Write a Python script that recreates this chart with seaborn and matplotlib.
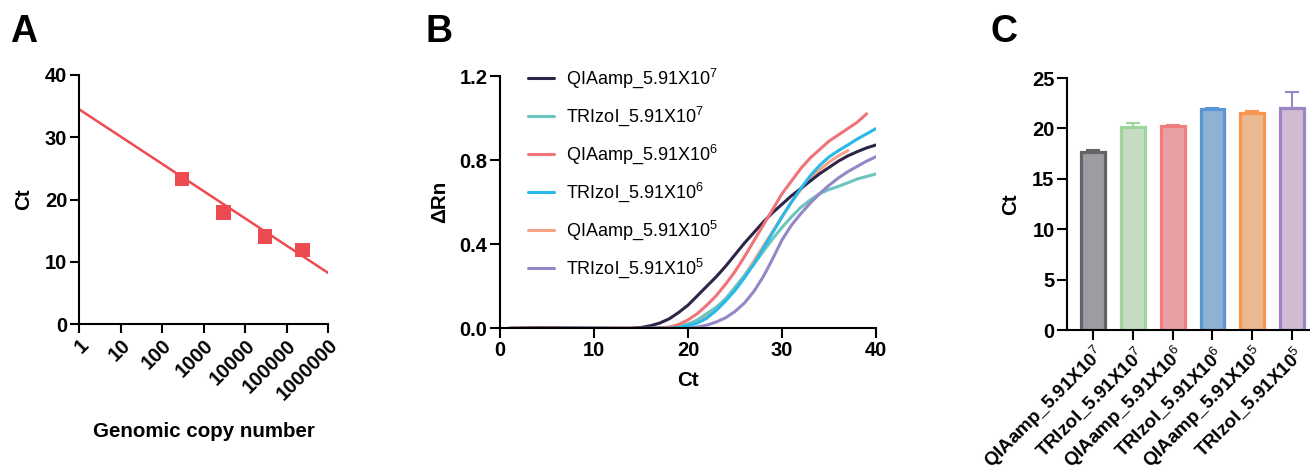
import numpy as np
import pandas as pd
import matplotlib
matplotlib.use("Agg")
import matplotlib.pyplot as plt
import seaborn as sns
from matplotlib.lines import Line2D

nan = np.nan
# ---------------- data ----------------
# Panel A: standard curve
copies = [300, 3000, 30000, 240000]
ct_std = [23.3, 17.9, 14.1, 11.9]
fit_intercept = 34.5
fit_slope = -4.38
a_xticks = [1, 10, 100, 1000, 10000, 100000, 1000000]
a_xticklabels = ["1", "10", "100", "1000", "10000", "100000", "1000000"]

# Panel B: amplification curves
ct_grid = [1, 4, 8, 12, 14, 15, 16, 17, 18, 19, 20, 21, 22, 23, 24, 25, 26, 27,
           28, 29, 30, 31, 32, 33, 34, 35, 36, 37, 38, 39, 40]
qia_7 = [0.0, 0.002, 0.001, 0.0, 0.0, 0.004, 0.012, 0.025, 0.045, 0.075, 0.11, 0.155, 0.20, 0.245,
         0.295, 0.35, 0.405, 0.455, 0.505, 0.55, 0.59, 0.63, 0.665, 0.70, 0.735, 0.765, 0.795,
         0.82, 0.84, 0.858, 0.872]
tri_7 = [0.0, 0.0, 0.001, -0.002, 0.0, 0.0, 0.001, 0.003, 0.005, 0.01, 0.02, 0.04, 0.07, 0.10,
         0.14, 0.195, 0.25, 0.305, 0.365, 0.425, 0.48, 0.53, 0.575, 0.61, 0.64, 0.66, 0.675,
         0.692, 0.71, 0.722, 0.734]
qia_6 = [0.0, 0.0, 0.0, 0.001, 0.0, 0.0, 0.0, 0.002, 0.005, 0.018, 0.04, 0.07, 0.11, 0.155,
         0.21, 0.27, 0.34, 0.415, 0.49, 0.565, 0.64, 0.70, 0.76, 0.81, 0.85, 0.89, 0.92,
         0.95, 0.98, 1.02, nan]
tri_6 = [nan, -0.002, 0.0, 0.0, -0.002, 0.0, 0.0, 0.0, 0.0, 0.004, 0.012, 0.025, 0.048, 0.085,
         0.13, 0.18, 0.24, 0.305, 0.38, 0.455, 0.53, 0.60, 0.665, 0.725, 0.775, 0.815, 0.845,
         0.872, 0.90, 0.925, 0.95]
qia_5 = [0.0, 0.0, 0.0, 0.0, 0.0, 0.0, 0.0, 0.002, 0.004, 0.01, 0.02, 0.035, 0.06, 0.095,
         0.14, 0.19, 0.25, 0.32, 0.39, 0.46, 0.53, 0.60, 0.66, 0.71, 0.755, 0.79, 0.82,
         0.845, nan, nan, nan]
tri_5 = [0.0, 0.0, 0.0, 0.0, -0.001, 0.0, 0.0, 0.0, 0.0, 0.0, 0.0, 0.006, 0.015, 0.03,
         0.05, 0.08, 0.12, 0.175, 0.245, 0.33, 0.42, 0.49, 0.545, 0.595, 0.64, 0.68, 0.715,
         0.745, 0.77, 0.795, 0.816]

b_labels = [r"QIAamp_5.91X10$^{7}$", r"TRIzol_5.91X10$^{7}$", r"QIAamp_5.91X10$^{6}$",
            r"TRIzol_5.91X10$^{6}$", r"QIAamp_5.91X10$^{5}$", r"TRIzol_5.91X10$^{5}$"]
b_colors = ["#2d2548", "#6cc4bf", "#f0737a", "#29b9e8", "#f8a386", "#9388c6"]

# Panel C: Ct bar chart
c_labels = b_labels
c_means = [17.7, 20.1, 20.2, 21.9, 21.5, 22.0]
c_sd = [0.2, 0.4, 0.1, 0.1, 0.2, 1.6]
c_face = ["#9a9ca3", "#c2e0bf", "#f49598", "#82b1e0", "#f9b682", "#d4b6d6"]
c_edge = ["#646467", "#9fd49b", "#f07c80", "#5a96d3", "#f7964f", "#9a88c4"]

# ---------------- style ----------------
sns.set_theme(style="ticks")
plt.rcParams["font.family"] = ["Liberation Sans", "DejaVu Sans"]
plt.rcParams["mathtext.fontset"] = "custom"
plt.rcParams["mathtext.rm"] = "Liberation Sans"
plt.rcParams["mathtext.it"] = "Liberation Sans"
plt.rcParams["mathtext.bf"] = "Liberation Sans"
plt.rcParams["axes.linewidth"] = 1.5
for k in ["text.color", "axes.labelcolor", "xtick.color", "ytick.color", "axes.edgecolor"]:
    plt.rcParams[k] = "black"

TICK_FS = 14.5
LABEL_FS = 14.8

fig = plt.figure(figsize=(13.1, 4.74), dpi=100)
W, H = 1310, 474


def add_axes(x0, x1, ytop, ybot):
    return fig.add_axes([x0 / W, 1 - ybot / H, (x1 - x0) / W, (ybot - ytop) / H])


def style_axes(ax, ticklen=7):
    sns.despine(ax=ax)
    ax.tick_params(axis="both", length=ticklen, width=1.5, labelsize=TICK_FS, pad=2, color="black",
                   labelcolor="black")
    for lab in ax.get_xticklabels() + ax.get_yticklabels():
        lab.set_fontweight("bold")
    for sp in ["left", "bottom"]:
        ax.spines[sp].set_color("black")
        ax.spines[sp].set_linewidth(1.5)


# ---------------- Panel A ----------------
axA = add_axes(79, 328, 75, 324)
axA.set_xscale("log")
axA.set_xlim(a_xticks[0], a_xticks[-1])
axA.set_ylim(0, 40)
fit_x = np.array(axA.get_xlim())
fit_df = pd.DataFrame({"x": fit_x, "y": fit_intercept + fit_slope * np.log10(fit_x)})
sns.lineplot(data=fit_df, x="x", y="y", ax=axA, color="#ee4b4f", lw=1.8)
pts = pd.DataFrame({"copies": copies, "ct": ct_std})
sns.scatterplot(data=pts, x="copies", y="ct", ax=axA, marker="s", s=110, color="#ee4a52",
                edgecolor="none", zorder=3, clip_on=False)
axA.set_xticks(a_xticks)
axA.set_xticklabels(a_xticklabels, rotation=45, ha="right", va="top", rotation_mode="anchor")
axA.minorticks_off()
axA.set_yticks([0, 10, 20, 30, 40])
style_axes(axA, ticklen=6.5)
axA.set_xlabel("Genomic copy number", fontsize=LABEL_FS, fontweight="bold")
axA.set_ylabel("Ct", fontsize=LABEL_FS, fontweight="bold")
axA.xaxis.set_label_coords(0.5, -0.395)
axA.yaxis.set_label_coords(-0.185, 0.5)
axA.set_xlim(a_xticks[0], a_xticks[-1])
axA.set_ylim(0, 40)

# ---------------- Panel B ----------------
axB = add_axes(500, 876, 76, 328.3)
series = [qia_7, tri_7, qia_6, tri_6, qia_5, tri_5]
draw_order = [4, 1, 5, 0, 2, 3]
handles = {}
for i in draw_order:
    df = pd.DataFrame({"Ct": ct_grid, "dRn": series[i]}).dropna()
    sns.lineplot(data=df, x="Ct", y="dRn", ax=axB, color=b_colors[i], lw=2.2,
                 zorder=2 + draw_order.index(i))
    handles[i] = Line2D([], [], color=b_colors[i], lw=2.2)
axB.set_xlim(0, 40)
axB.set_ylim(0, 1.2)
axB.set_xticks([0, 10, 20, 30, 40])
axB.set_yticks([0.0, 0.4, 0.8, 1.2])
axB.set_yticklabels(["0.0", "0.4", "0.8", "1.2"])
style_axes(axB, ticklen=7)
axB.spines["bottom"].set_zorder(10)
axB.set_xlabel("Ct", fontsize=LABEL_FS, fontweight="bold")
axB.set_ylabel("ΔRn", fontsize=LABEL_FS, fontweight="bold")
axB.xaxis.set_label_coords(0.5, -0.17)
axB.yaxis.set_label_coords(-0.135, 0.5)
axB.legend([handles[i] for i in range(6)], b_labels, loc="upper left",
           bbox_to_anchor=(0.03, 1.10), frameon=False, fontsize=13,
           handlelength=1.45, handletextpad=0.7, labelspacing=0.8)

# ---------------- Panel C ----------------
axC = add_axes(1067, 1310, 78, 330)
cdf = pd.DataFrame({"label": c_labels, "ct": c_means})
sns.barplot(data=cdf, x="label", y="ct", ax=axC, width=0.6, palette=c_face, hue="label",
            legend=False, linewidth=2.3, errorbar=None)
for patch, ec in zip(axC.patches, c_edge):
    patch.set_edgecolor(ec)
    patch.set_linewidth(2.3)
for i in range(len(c_means)):
    axC.errorbar(i, c_means[i], yerr=[[0], [c_sd[i]]], fmt="none", ecolor=c_edge[i],
                 elinewidth=1.5, capsize=4.7, capthick=1.5, zorder=1)
axC.set_xlim(-0.653, 5.45)
axC.set_ylim(0, 25)
axC.set_yticks([0, 5, 10, 15, 20, 25])
axC.set_xticks(range(6))
axC.set_xticklabels(c_labels, rotation=45, ha="right", va="top", rotation_mode="anchor")
style_axes(axC, ticklen=7)
axC.tick_params(axis="x", labelsize=13.5)
axC.set_xlabel("")
axC.set_ylabel("Ct", fontsize=LABEL_FS, fontweight="bold")
axC.yaxis.set_label_coords(-0.193, 0.5)

# ---------------- panel letters ----------------
for x, letter in [(10, "A"), (425, "B"), (991, "C")]:
    fig.text(x / W, 1 - 14 / H, letter, fontsize=27, fontweight="bold", ha="left", va="top")

fig.savefig("out.png", dpi=100)
